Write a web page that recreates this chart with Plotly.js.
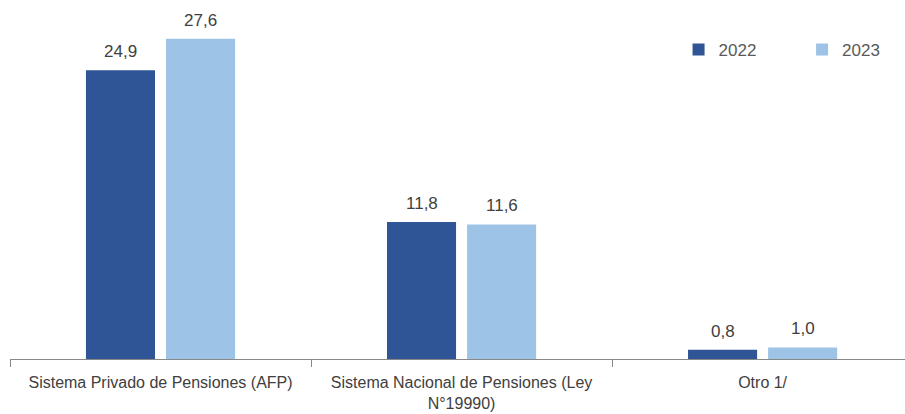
<!DOCTYPE html>
<html><head><meta charset="utf-8">
<script src="https://cdn.plot.ly/plotly-3.0.1.min.js"></script>
<style>html,body{margin:0;padding:0;background:#fff}#c{width:905px;height:414px}</style>
</head><body><div id="c"></div>
<script>
const categories = ["Sistema Privado de Pensiones (AFP)", "Sistema Nacional de Pensiones (Ley<br>N°19990)", "Otro 1/"];
const v2022 = [24.9, 11.8, 0.8];
const v2023 = [27.6, 11.6, 1.0];
const font = "'Liberation Sans', Arial, sans-serif";
const fmt = v => v.toFixed(1).replace('.', ',');
const traces = [
  {type:'bar', name:'2022', x:categories, y:v2022, marker:{color:'#2f5597'}, legend:'legend'},
  {type:'bar', name:'2023', x:categories, y:v2023, marker:{color:'#9dc3e6'}, legend:'legend2'}
];
const annotations = [];
[[v2022, -40], [v2023, 40]].forEach(([vals, dx]) => {
  vals.forEach((v, i) => annotations.push({
    x: categories[i], y: v, xref:'x', yref:'y', text: fmt(v), showarrow:false,
    xanchor:'center', yanchor:'bottom', xshift:dx, yshift:7,
    font:{family:font, size:17, color:'#404040'}
  }));
});
const legendBase = {orientation:'h', xanchor:'left', y:0.888, yanchor:'middle', itemwidth:30,
  font:{family:font, size:17, color:'#595959'}, bgcolor:'rgba(0,0,0,0)'};
const layout = {
  width:905, height:414, separators:',.',
  margin:{l:10, r:0, t:11, b:55},
  paper_bgcolor:'#fff', plot_bgcolor:'#fff',
  font:{family:font, size:16, color:'#404040'},
  barmode:'group', bargap:0.468, bargroupgap:0.1375,
  xaxis:{type:'category', range:[-0.5, 2.473], showline:true, linecolor:'#898989', linewidth:1,
    ticks:'outside', tickson:'boundaries', ticklen:7, tickcolor:'#898989', tickangle:0, automargin:false,
    ticklabelstandoff:9,
    tickfont:{family:font, size:16, color:'#404040'}, showgrid:false, zeroline:false},
  yaxis:{range:[0,30], visible:false, showgrid:false, zeroline:false, automargin:false},
  showlegend:true,
  legend:Object.assign({}, legendBase, {x:0.747}),
  legend2:Object.assign({}, legendBase, {x:0.885}),
  annotations: annotations
};
Plotly.newPlot('c', traces, layout, {displayModeBar:false, staticPlot:true});
</script></body></html>
